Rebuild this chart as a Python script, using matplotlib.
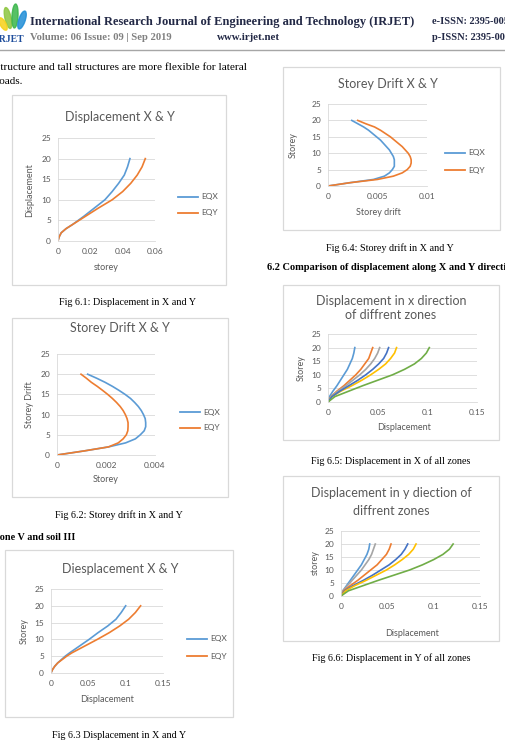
import matplotlib
matplotlib.use("Agg")
import matplotlib.pyplot as plt
from matplotlib.lines import Line2D
from matplotlib.patches import Rectangle, Ellipse

W, H = 506, 748

# ---- data ----
storeys = [0, 1, 2, 3, 4, 5, 6, 8, 10, 12, 14, 16, 18, 20]
storeys_all = list(range(21))

# Fig 6.1 displacement
disp1_eqx = [0, 0.0007, 0.002, 0.005, 0.009, 0.0125, 0.016, 0.0225, 0.029, 0.0335, 0.0375, 0.041, 0.043, 0.0445]
disp1_eqy = [0, 0.0007, 0.002, 0.005, 0.009, 0.013, 0.017, 0.025, 0.0335, 0.040, 0.045, 0.049, 0.052, 0.054]

# Fig 6.2 storey drift (one value per storey)
drift2_eqx = [0, 0.0011, 0.0021, 0.0028, 0.0032, 0.0034, 0.00356, 0.00362, 0.00362, 0.0036, 0.00353,
              0.00344, 0.00332, 0.00317, 0.0030, 0.00278, 0.00253, 0.00226, 0.00196, 0.00162, 0.00125]
drift2_eqy = [0, 0.0011, 0.0021, 0.0025, 0.0027, 0.00283, 0.00289, 0.0029, 0.0029, 0.00286, 0.00279,
              0.0027, 0.00258, 0.00243, 0.00226, 0.00207, 0.00186, 0.00164, 0.0014, 0.0012, 0.00098]

# Fig 6.3 displacement zone V soil III
disp3_eqx = [0, 0.002, 0.005, 0.009, 0.014, 0.019, 0.025, 0.038, 0.051, 0.063, 0.076, 0.087, 0.094, 0.100]
disp3_eqy = [0, 0.002, 0.005, 0.009, 0.015, 0.021, 0.028, 0.045, 0.062, 0.078, 0.092, 0.104, 0.113, 0.120]

# Fig 6.4 storey drift (one value per storey)
drift4_eqx = [0, 0.0022, 0.0046, 0.0057, 0.0062, 0.0065, 0.0067, 0.0067, 0.0067, 0.0066, 0.0064,
              0.0062, 0.0059, 0.0056, 0.0053, 0.0049, 0.0045, 0.0041, 0.0036, 0.0030, 0.0024]
drift4_eqy = [0, 0.0022, 0.0050, 0.0066, 0.0075, 0.0080, 0.0083, 0.0084, 0.0084, 0.0083, 0.0081,
              0.0078, 0.0075, 0.0071, 0.0067, 0.0063, 0.0058, 0.0053, 0.0047, 0.0038, 0.0030]

# Fig 6.5 / 6.6 all zones
zone_storeys = [0, 2, 4, 6, 8, 10, 12, 14, 16, 18, 20]
zones_x_colors = ['#5B9BD5', '#ED7D31', '#A5A5A5', '#FFC000', '#4472C4', '#70AD47']
zones_x = [
    [0, 0.0015, 0.005, 0.009, 0.0125, 0.016, 0.0195, 0.022, 0.0245, 0.026, 0.027],
    [0, 0.003, 0.009, 0.016, 0.022, 0.028, 0.033, 0.037, 0.041, 0.043, 0.045],
    [0, 0.003, 0.010, 0.018, 0.025, 0.032, 0.038, 0.043, 0.047, 0.050, 0.052],
    [0, 0.004, 0.013, 0.024, 0.034, 0.043, 0.051, 0.058, 0.063, 0.067, 0.069],
    [0, 0.004, 0.012, 0.021, 0.030, 0.038, 0.045, 0.051, 0.056, 0.059, 0.061],
    [0, 0.007, 0.021, 0.035, 0.050, 0.065, 0.077, 0.087, 0.094, 0.099, 0.102],
]
zones_y_colors = ['#5B9BD5', '#A5A5A5', '#ED7D31', '#4472C4', '#FFC000', '#70AD47']
zones_y = [
    [0, 0.002, 0.006, 0.010, 0.014, 0.018, 0.022, 0.025, 0.028, 0.030, 0.031],
    [0, 0.002, 0.007, 0.012, 0.017, 0.022, 0.026, 0.030, 0.033, 0.035, 0.037],
    [0, 0.003, 0.010, 0.018, 0.025, 0.032, 0.039, 0.044, 0.049, 0.052, 0.054],
    [0, 0.004, 0.013, 0.024, 0.034, 0.043, 0.052, 0.059, 0.065, 0.069, 0.072],
    [0, 0.005, 0.015, 0.027, 0.038, 0.049, 0.058, 0.066, 0.073, 0.078, 0.081],
    [0, 0.008, 0.024, 0.040, 0.057, 0.074, 0.088, 0.100, 0.110, 0.117, 0.121],
]

BLUE = '#5B9BD5'
ORANGE = '#ED7D31'
GREY = '#595959'
CHART_FONT = ['Lato', 'DejaVu Sans']
SERIF = ['Liberation Serif', 'DejaVu Serif']

fig = plt.figure(figsize=(W / 100, H / 100), dpi=100)


def fx(x):
    return x / W


def fy(y):
    return 1 - y / H


def txt(x, y, s, size=7, ha='left', color='black', family=SERIF, **kw):
    fig.text(fx(x), fy(y), s, fontsize=size, ha=ha, va='center', color=color, family=family, **kw)


def box(l, t, r, b):
    fig.add_artist(Rectangle((fx(l), fy(b)), (r - l) / W, (b - t) / H, transform=fig.transFigure,
                             facecolor='white', edgecolor='#d9d9d9', lw=0.9, zorder=0))


def chart(l, t, r, b, xmax, xticks, xticklabels):
    ax = fig.add_axes([fx(l), fy(b), (r - l) / W, (b - t) / H])
    ax.set_xlim(0, xmax)
    ax.set_ylim(0, 25)
    ax.set_yticks([0, 5, 10, 15, 20, 25])
    ax.set_xticks(xticks)
    ax.set_xticklabels(xticklabels)
    ax.grid(axis='y', color='#d9d9d9', lw=0.6)
    ax.set_axisbelow(True)
    for s in ['top', 'right']:
        ax.spines[s].set_visible(False)
    for s in ['left', 'bottom']:
        ax.spines[s].set_color('#d9d9d9')
        ax.spines[s].set_linewidth(0.6)
    ax.tick_params(length=0, labelsize=6, labelcolor=GREY, pad=5)
    for lab in ax.get_xticklabels() + ax.get_yticklabels():
        lab.set_family(CHART_FONT)
    ax.patch.set_alpha(0)
    return ax


def legend(x, y1, y2):
    for y, c, name in [(y1, BLUE, 'EQX'), (y2, ORANGE, 'EQY')]:
        fig.add_artist(Line2D([fx(x), fx(x + 20)], [fy(y), fy(y)], color=c, lw=1.3,
                              transform=fig.transFigure))
        txt(x + 23, y, name, size=6, color=GREY, family=CHART_FONT)


# ---- header ----
for (cx, cy, w, h, ang, c) in [(8, 18, 6, 22, 20, '#8dc63f'), (15, 16, 6, 24, -5, '#39b54a'),
                               (22, 20, 6, 20, -30, '#1f8dd6'), (3, 24, 5, 16, 45, '#f7d117')]:
    fig.add_artist(Ellipse((fx(cx), fy(cy)), w / W, h / H, angle=ang, transform=fig.transFigure,
                           color=c, alpha=0.85))
txt(-4, 40, 'IRJET', size=7, color='#1f4e9c', weight='bold')
txt(30, 22, 'International Research Journal of Engineering and Technology (IRJET)', size=9.0,
    color='#232946', weight='bold')
txt(30, 38, 'Volume: 06 Issue: 09 | Sep 2019', size=7.7, color='#808080', weight='bold')
txt(217, 38, 'www.irjet.net', size=7.8, color='#232946', weight='bold')
txt(432, 22, 'e-ISSN: 2395-0056', size=7.5, color='#232946', weight='bold')
txt(432, 38, 'p-ISSN: 2395-0072', size=7.5, color='#232946', weight='bold')
fig.add_artist(Line2D([0, 1], [fy(50), fy(50)], color='#a6a6a6', lw=1.0, transform=fig.transFigure))

txt(-4, 68, 'structure and tall structures are more flexible for lateral', size=8.1)
txt(-3, 82, 'loads.', size=8.1)

# ---- Fig 6.1 ----
box(12, 95, 226, 285)
txt(120, 117, 'Displacement X & Y', size=9, ha='center', color=GREY, family=CHART_FONT)
ax = chart(58, 138, 155, 241, 0.06, [0, 0.02, 0.04, 0.06], ['0', '0.02', '0.04', '0.06'])
ax.plot(disp1_eqx, storeys, color=BLUE, lw=1.2)
ax.plot(disp1_eqy, storeys, color=ORANGE, lw=1.2)
txt(106, 268, 'storey', size=6.5, ha='center', color=GREY, family=CHART_FONT)
txt(30, 190, 'Displacement', size=6.5, ha='center', color=GREY, family=CHART_FONT, rotation=90)
legend(178, 197, 213)
txt(128, 303, 'Fig 6.1: Displacement in X and Y', size=7.3, ha='center')

# ---- Fig 6.2 ----
box(12, 318, 228, 497)
txt(120, 328, 'Storey Drift X & Y', size=9, ha='center', color=GREY, family=CHART_FONT)
ax = chart(57, 354, 155, 455, 0.004, [0, 0.002, 0.004], ['0', '0.002', '0.004'])
ax.plot(drift2_eqx, storeys_all, color=BLUE, lw=1.2)
ax.plot(drift2_eqy, storeys_all, color=ORANGE, lw=1.2)
txt(106, 480, 'Storey', size=6.5, ha='center', color=GREY, family=CHART_FONT)
txt(30, 405, 'Storey Drift', size=6.5, ha='center', color=GREY, family=CHART_FONT, rotation=90)
legend(180, 412, 428)
txt(119, 515, 'Fig 6.2: Storey drift in X and Y', size=7.3, ha='center')
txt(-7, 537, 'Zone V and soil III', size=7.3, weight='bold')

# ---- Fig 6.3 ----
box(5, 550, 233, 717)
txt(120, 569, 'Diesplacement X & Y', size=9, ha='center', color=GREY, family=CHART_FONT)
ax = chart(51, 589, 163, 673, 0.15, [0, 0.05, 0.1, 0.15], ['0', '0.05', '0.1', '0.15'])
ax.plot(disp3_eqx, storeys, color=BLUE, lw=1.2)
ax.plot(disp3_eqy, storeys, color=ORANGE, lw=1.2)
txt(107, 700, 'Displacement', size=6.5, ha='center', color=GREY, family=CHART_FONT)
txt(24, 631, 'Storey', size=6.5, ha='center', color=GREY, family=CHART_FONT, rotation=90)
legend(187, 639, 656)
txt(119, 735, 'Fig 6.3 Displacement in X and Y', size=7.3, ha='center')

# ---- Fig 6.4 ----
box(283, 67, 500, 230)
txt(388, 84, 'Storey Drift X & Y', size=9, ha='center', color=GREY, family=CHART_FONT)
ax = chart(328, 104, 427, 186, 0.01, [0, 0.005, 0.01], ['0', '0.005', '0.01'])
ax.plot(drift4_eqx, storeys_all, color=BLUE, lw=1.2)
ax.plot(drift4_eqy, storeys_all, color=ORANGE, lw=1.2)
txt(378, 213, 'Storey drift', size=6.5, ha='center', color=GREY, family=CHART_FONT)
txt(293, 145, 'Storey', size=6.5, ha='center', color=GREY, family=CHART_FONT, rotation=90)
legend(445, 153, 170)
txt(390, 248, 'Fig 6.4: Storey drift in X and Y', size=7.3, ha='center')
txt(267, 268, '6.2 Comparison of displacement along X and Y direction', size=7.5, weight='bold')

# ---- Fig 6.5 ----
box(283, 285, 499, 440)
txt(391, 301, 'Displacement in x direction', size=9, ha='center', color=GREY, family=CHART_FONT)
txt(391, 315, 'of diffrent zones', size=9, ha='center', color=GREY, family=CHART_FONT)
ax = chart(328, 334, 477, 402, 0.15, [0, 0.05, 0.1, 0.15], ['0', '0.05', '0.1', '0.15'])
for vals, c in zip(zones_x, zones_x_colors):
    ax.plot(vals, zone_storeys, color=c, lw=1.2)
txt(404, 428, 'Displacement', size=6.5, ha='center', color=GREY, family=CHART_FONT)
txt(301, 368, 'Storey', size=6.5, ha='center', color=GREY, family=CHART_FONT, rotation=90)
txt(391, 461, 'Fig 6.5: Displacement in X of all zones', size=7.3, ha='center')

# ---- Fig 6.6 ----
box(283, 476, 499, 641)
txt(391, 493, 'Displacement in y diection of', size=9, ha='center', color=GREY, family=CHART_FONT)
txt(391, 511, 'diffrent zones', size=9, ha='center', color=GREY, family=CHART_FONT)
ax = chart(341, 531, 480, 596, 0.15, [0, 0.05, 0.1, 0.15], ['0', '0.05', '0.1', '0.15'])
for vals, c in zip(zones_y, zones_y_colors):
    ax.plot(vals, zone_storeys, color=c, lw=1.2)
txt(412, 633, 'Displacement', size=6.5, ha='center', color=GREY, family=CHART_FONT)
txt(315, 563, 'storey', size=6.5, ha='center', color=GREY, family=CHART_FONT, rotation=90)
txt(391, 658, 'Fig 6.6: Displacement in Y of all zones', size=7.3, ha='center')

fig.savefig('out.png', dpi=100)
